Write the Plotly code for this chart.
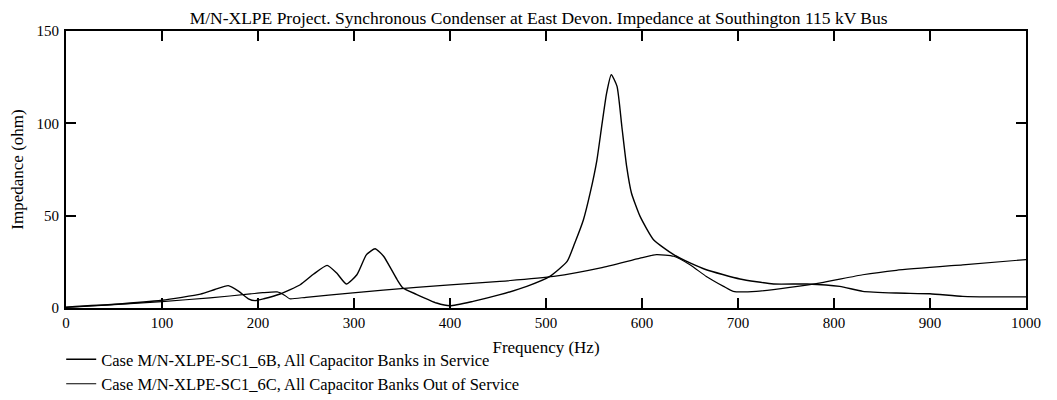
import plotly.graph_objects as go

# ---- data ----
freq_6b = [0, 50, 100, 140, 155, 169, 180, 190, 197, 206, 223, 244, 258, 272, 282, 292,
           303, 313, 322, 331, 338, 345, 351, 365, 386, 400, 424, 452, 480, 504, 522,
           530, 539, 546, 553, 558, 563, 568, 574, 579, 584, 589, 598, 612, 633, 650,
           667, 702, 737, 772, 806, 830, 865, 900, 934, 970, 1000]
imp_6b = [0.5, 2.0, 4.2, 7.5, 10.0, 12.1, 9.0, 5.0, 4.0, 5.0, 7.6, 12.6, 18.4, 23.1, 18.9, 13.0,
          18.0, 28.9, 32.1, 27.9, 21.7, 15.3, 10.8, 7.4, 2.7, 1.2, 3.6, 7.2, 11.7, 17.1, 25.2,
          35.2, 47.8, 62.3, 80.0, 98.3, 116.0, 126.3, 120.0, 98.3, 76.7, 62.3, 49.6, 37.0, 28.9, 24.4,
          20.7, 15.7, 13.0, 13.0, 11.7, 9.0, 8.1, 7.7, 6.3, 6.0, 6.0]

freq_6c = [0, 50, 100, 150, 192, 205, 220, 228, 233, 250, 296, 365, 400, 452, 508,
           557, 598, 615, 633, 650, 667, 685, 695, 719, 754, 789, 830, 865, 934, 1000]
imp_6c = [0.3, 1.8, 3.5, 5.5, 7.6, 8.3, 8.7, 6.8, 5.0, 5.8, 8.1, 11.2, 12.5, 14.4, 17.1,
          21.7, 27.0, 28.9, 28.0, 23.4, 17.1, 11.7, 9.0, 9.0, 11.2, 13.9, 18.0, 20.4, 23.4, 26.2]

name_6b = "Case M/N-XLPE-SC1_6B, All Capacitor Banks in Service"
name_6c = "Case M/N-XLPE-SC1_6C, All Capacitor Banks Out of Service"

x_ticks = [0, 100, 200, 300, 400, 500, 600, 700, 800, 900, 1000]
y_ticks = [0, 50, 100, 150]

FONT = "Liberation Serif, Times New Roman, serif"

fig = go.Figure()
fig.add_trace(go.Scatter(x=freq_6b, y=imp_6b, mode="lines", name=name_6b,
                         line=dict(color="black", width=1.4, shape="spline", smoothing=0.5)))
fig.add_trace(go.Scatter(x=freq_6c, y=imp_6c, mode="lines", name=name_6c,
                         line=dict(color="black", width=1.2, shape="spline", smoothing=0.5)))

axis_common = dict(showline=True, linecolor="black", linewidth=2, mirror="ticks",
                   ticks="inside", ticklen=10, tickwidth=1.5, tickcolor="black",
                   showgrid=False, zeroline=False, automargin=False,
                   tickfont=dict(family=FONT, size=15, color="black"))

fig.update_xaxes(range=[0, 1000], tickvals=x_ticks,
                 title=dict(text="Frequency (Hz)", standoff=11,
                            font=dict(family=FONT, size=17, color="black")),
                 **axis_common)
fig.update_yaxes(range=[0, 150], tickvals=y_ticks, ticklabelstandoff=2,
                 title=dict(text="Impedance (ohm)", standoff=12,
                            font=dict(family=FONT, size=17, color="black")),
                 **axis_common)

# page body keeps its default 8px margin, so margins are set 8px smaller on the left/top;
# the figure is a bit taller than the window so the legend never pushes the plot area up
fig.update_layout(
    width=1057, height=420,
    margin=dict(l=58, r=39, t=23, b=120),
    paper_bgcolor="white", plot_bgcolor="white",
    font=dict(family=FONT, size=17, color="black"),
    title=dict(text="M/N-XLPE Project. Synchronous Condenser at East Devon. Impedance at Southington 115 kV Bus",
               x=0.502, xanchor="center", y=0.977, yanchor="middle",
               font=dict(family=FONT, size=17.5, color="black")),
    showlegend=True,
    legend=dict(x=-0.005, xanchor="left", y=-0.123, yanchor="top",
                bgcolor="rgba(0,0,0,0)", borderwidth=0,
                font=dict(family=FONT, size=16.5, color="black")),
)

fig.write_html("out.html")
